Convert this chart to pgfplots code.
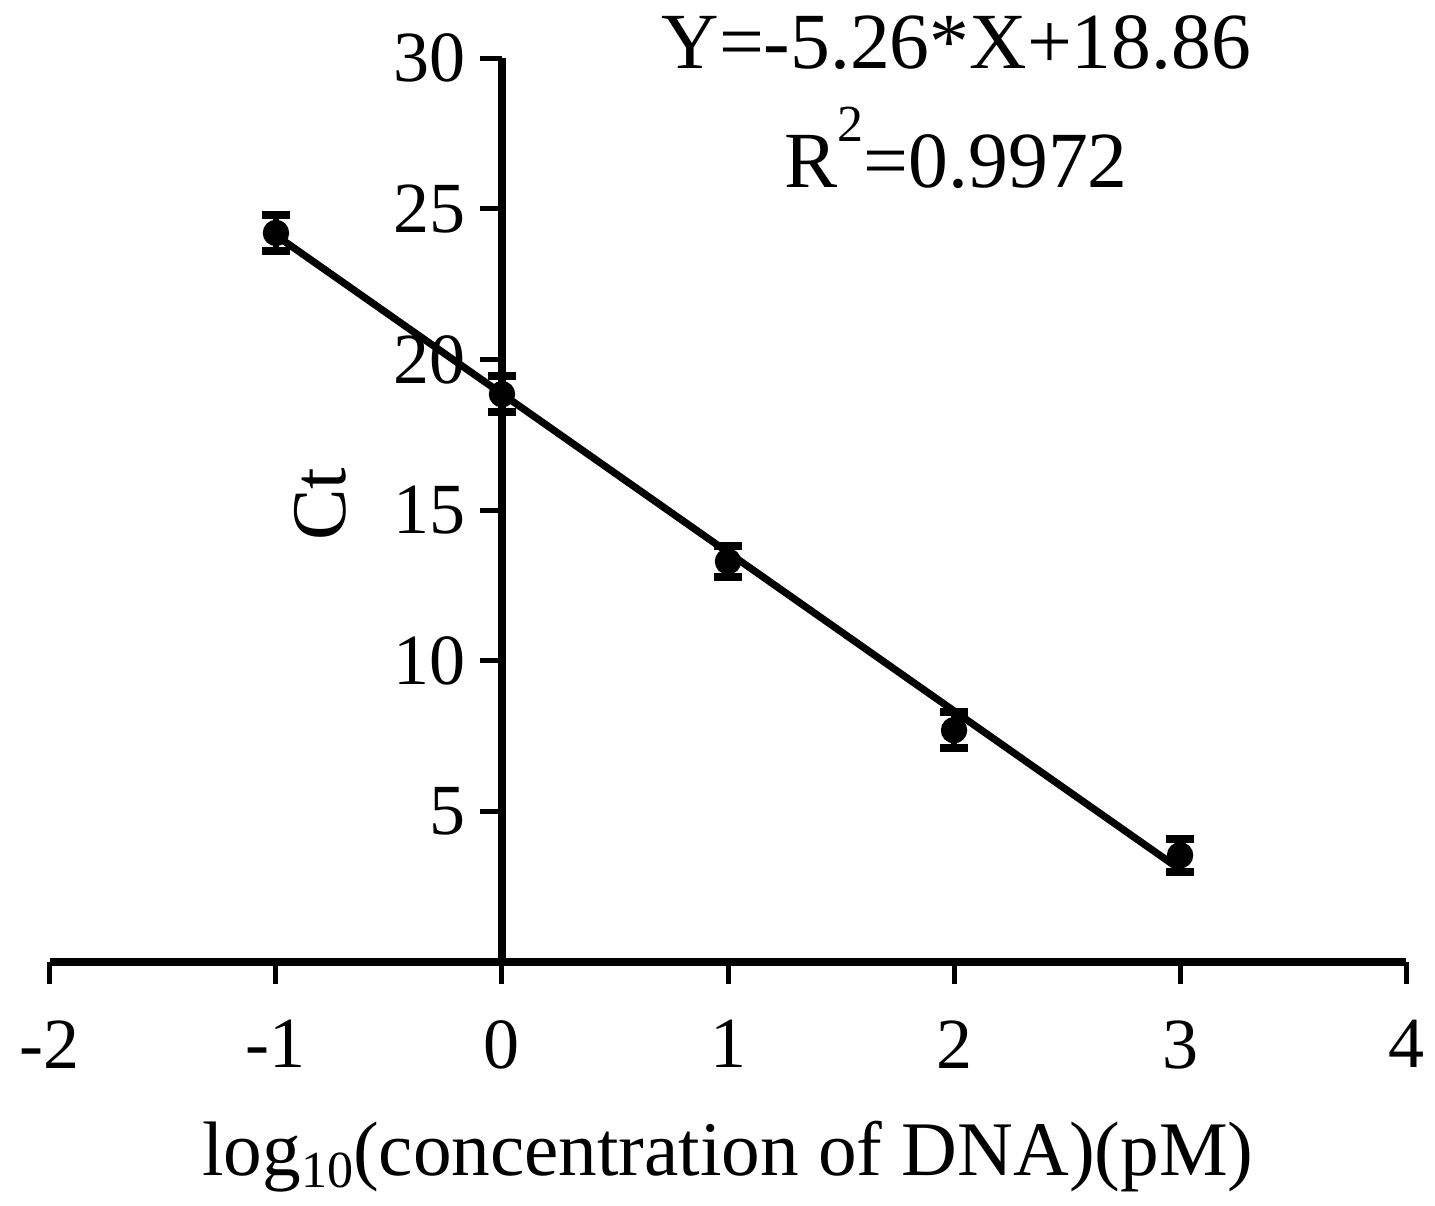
\documentclass[border=0pt]{standalone}
\usepackage{fontspec}
\setmainfont{Liberation Serif}
\usepackage{pgfplots}
\pgfplotsset{compat=1.18}
\newcommand{\ff}{\fontsize{18}{21}\selectfont}
\newcommand{\fl}{\fontsize{19.3}{23}\selectfont}
\newcommand{\fe}{\fontsize{19.9}{24}\selectfont}

\begin{document}
\begin{tikzpicture}
\begin{axis}[
    scale only axis,
    width=339pt,
    height=226pt,
    xmin=-2, xmax=4,
    ymin=0, ymax=30,
    enlargelimits=false,
    clip=false,
    axis x line=bottom,
    axis y line=middle,
    hide obscured x ticks=false,
    hide obscured y ticks=false,
    axis line style={-, line width=2pt},
    every inner x axis line/.append style={-},
    every inner y axis line/.append style={-},
    xtick={-2,-1,0,1,2,3,4},
    ytick={5,10,15,20,25,30},
    tick align=outside,
    major tick length=5.5pt,
    tick style={line width=1.25pt, black},
    /pgf/number format/assume math mode=true,
    tick label style={font=\ff},
    xticklabel style={yshift=-5.5pt},
    xlabel={log\raisebox{-3pt}{\fontsize{13}{15}\selectfont 10}(concentration of DNA)(pM)},
    every axis x label/.style={at={(axis cs:1,-7.07)}, anchor=base, font=\fl},
    ylabel={Ct},
    every axis y label/.style={at={(axis cs:-0.805,15.2)}, rotate=90, anchor=center, font=\fl},
]
% mean Ct with error bars
\addplot[black, only marks, mark=*, mark size=3.1pt,
    error bars/.cd, y dir=both, y explicit,
    error bar style={line width=1.4pt, black},
    error mark options={rotate=90, line width=2pt, mark size=3.6pt, black}]
    coordinates {
    (-1,24.2) +- (0,0.6)
    (0,18.85) +- (0,0.6)
    (1,13.3) +- (0,0.5)
    (2,7.7) +- (0,0.6)
    (3,3.55) +- (0,0.55)
};
% linear fit Y = -5.26 X + 18.86
\addplot[black, line width=1.8pt] coordinates {(-1,24.12) (3,3.08)};
\node[anchor=base, font=\fe] at (axis cs:2.01,29.66) {Y=-5.26*X+18.86};
\node[anchor=base, font=\fe] at (axis cs:2.01,25.7) {R\raisebox{11.5pt}{\fontsize{13}{15}\selectfont 2}=0.9972};
\coordinate (bbll) at (axis cs:-2.221,-8.065);
\coordinate (bbur) at (axis cs:4.128,31.93);
\end{axis}
\pgfresetboundingbox
\path[use as bounding box] (bbll) rectangle (bbur);
\end{tikzpicture}
\end{document}
